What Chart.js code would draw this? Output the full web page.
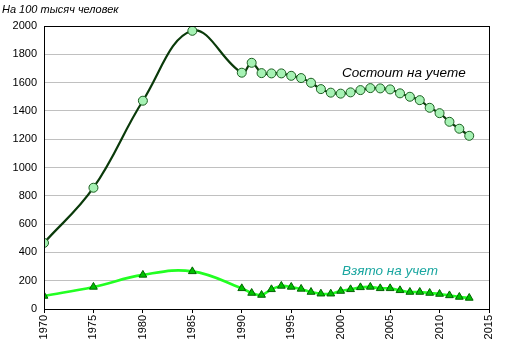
<!DOCTYPE html>
<html><head><meta charset="utf-8">
<script src="https://cdn.jsdelivr.net/npm/chart.js@4/dist/chart.umd.min.js"></script>
<style>html,body{margin:0;padding:0;background:#fff}#wrap{width:511px;height:356px;position:relative}</style>
</head><body><div id="wrap"><canvas id="c" width="511" height="356"></canvas></div>
<script>
const yearsRegistered = [1970,1975,1980,1985,1990,1991,1992,1993,1994,1995,1996,1997,1998,1999,2000,2001,2002,2003,2004,2005,2006,2007,2008,2009,2010,2011,2012,2013];
const registered = [467,857,1472,1966,1670,1740,1667,1665,1665,1648,1632,1599,1554,1529,1522,1531,1547,1561,1559,1552,1524,1500,1476,1422,1384,1323,1274,1224];
const yearsTaken = yearsRegistered;
const taken = [92,156,241,266,146,113,99,139,163,156,142,120,108,108,127,139,153,156,146,146,132,120,120,113,106,96,85,78];
const xTicks = [1970,1975,1980,1985,1990,1995,2000,2005,2010,2015];
const yTicks = [0,200,400,600,800,1000,1200,1400,1600,1800,2000];
const titleText = 'На 100 тысяч человек';
const labelRegistered = 'Состоит на учете';
const labelTaken = 'Взято на учет';

const FONT = 'Liberation Sans, Arial, sans-serif';

const overlay = {
  id: 'overlay',
  afterDraw(chart) {
    const ctx = chart.ctx, a = chart.chartArea;
    ctx.save();
    ctx.strokeStyle = '#000'; ctx.lineWidth = 1;
    ctx.strokeRect(Math.round(a.left)+0.5, Math.round(a.top)+0.5, Math.round(a.right-a.left), Math.round(a.bottom-a.top));
    ctx.font = 'italic 11px ' + FONT;
    ctx.fillStyle = '#000'; ctx.textBaseline = 'middle'; ctx.textAlign = 'left';
    ctx.fillText(titleText, 2, 10);
    ctx.font = 'italic 13.5px ' + FONT;
    ctx.fillStyle = '#000';
    ctx.fillText(labelRegistered, 342, 73);
    ctx.fillStyle = '#1aa6a0';
    ctx.fillText(labelTaken, 342, 271);
    ctx.restore();
  }
};

new Chart(document.getElementById('c'), {
  type: 'line',
  data: {
    datasets: [
      {
        data: yearsRegistered.map((x,i)=>({x, y: registered[i]})),
        borderColor: '#0a3a0a', borderWidth: 2.2, tension: 0.4,
        pointRadius: 4.5, pointBackgroundColor: '#a6f2b4', pointBorderColor: '#1b5e20', pointBorderWidth: 1,
        fill: false, order: 1
      },
      {
        data: yearsTaken.map((x,i)=>({x, y: taken[i]})),
        borderColor: '#22ff22', borderWidth: 2.6, tension: 0.4,
        pointStyle: 'triangle', pointRadius: 4.5, pointBackgroundColor: '#00c000', pointBorderColor: '#006400', pointBorderWidth: 1,
        fill: false, order: 2
      }
    ]
  },
  options: {
    responsive: false, animation: false, devicePixelRatio: 1,
    layout: { padding: { top: 26, right: 22, bottom: 0, left: 0 } },
    plugins: { legend: { display: false }, tooltip: { enabled: false } },
    scales: {
      x: {
        type: 'linear', min: 1970, max: 2015,
        afterBuildTicks(s){ s.ticks = xTicks.map(v=>({value:v})); },
        afterFit(s){ s.height = 47; },
        ticks: { minRotation: 90, maxRotation: 90, color: '#000', font: { family: FONT, size: 11 }, padding: 2, autoSkip: false, callback: v => String(v) },
        grid: { drawOnChartArea: false, drawTicks: true, tickLength: 4, color: '#000' },
        border: { display: true, color: '#000' }
      },
      y: {
        min: 0, max: 2000,
        afterBuildTicks(s){ s.ticks = yTicks.map(v=>({value:v})); },
        afterFit(s){ s.width = 44; },
        ticks: { color: '#000', font: { family: FONT, size: 11 }, padding: 7, callback: v => String(v) },
        grid: { color: '#c0c0c0', drawTicks: false },
        border: { display: true, color: '#000' }
      }
    }
  },
  plugins: [overlay]
});
</script></body></html>
